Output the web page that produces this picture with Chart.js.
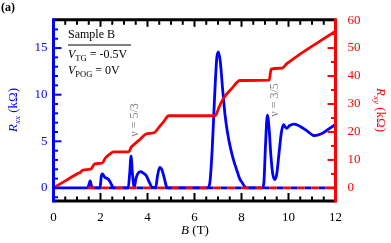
<!DOCTYPE html>
<html lang="en">
<head>
<meta charset="UTF-8">
<title>Sample B magnetotransport</title>
<script src="https://cdn.jsdelivr.net/npm/chart.js"></script>
<style>
  html, body { margin: 0; padding: 0; background: #fff; }
  #wrap { width: 391px; height: 243px; }
</style>
</head>
<body>
<div id="wrap"><canvas id="hall" width="391" height="243"></canvas></div>
<script>
// B (T) and Rxx (kOhm)
const rxxB = [0, 1.45, 1.5, 1.56, 1.62, 1.68, 1.98, 2.03, 2.08, 2.14, 2.2, 2.3, 2.4, 2.48, 2.55,
  3.18, 3.24, 3.3, 3.36, 3.44, 3.5, 3.58, 3.7, 3.82, 3.95, 4.08, 4.2, 4.35, 4.42, 4.52, 4.62, 4.72, 4.8, 4.88,
  6.55, 6.65, 6.75, 6.85, 6.95, 7.02, 7.1, 7.2, 7.3, 7.4, 7.52, 7.65, 7.8, 7.92, 8.02, 8.12, 8.22,
  8.88, 8.95, 9.02, 9.1, 9.17, 9.25, 9.33, 9.42, 9.5, 9.6, 9.7, 9.79, 9.87, 9.93, 10.05, 10.25, 10.5, 10.8, 11.1, 11.4, 11.7, 12];
const rxxVal = [0, 0, 0.3, 0.75, 0.2, 0, 0, 1.2, 1.5, 1.3, 1.1, 1.0, 0.7, 0.3, 0,
  0, 1.5, 3.4, 1.5, 0.05, 0.9, 1.5, 1.75, 1.6, 1.3, 0.6, 0.05, 0.05, 1.2, 2.2, 1.9, 1.0, 0.2, 0,
  0, 0.5, 4, 9.5, 14, 14.6, 13.5, 10.5, 7.8, 6, 4.4, 3.1, 1.9, 1.0, 0.6, 0.2, 0,
  0, 0.5, 4.5, 7.8, 6.5, 3.5, 1.5, 0.9, 1.5, 3.8, 6, 6.8, 6.5, 6.4, 6.7, 6.85, 6.6, 6.1, 5.6, 5.8, 6.3, 6.8];

// B (T) and Rxy (kOhm)
const rxyB = [0, 0.5, 1.0, 1.15, 1.25, 1.6, 1.75, 2.08, 2.2, 2.4, 2.55, 3.2, 3.3, 3.45, 3.7, 3.95, 4.3, 4.5, 4.7, 4.9,
  6.88, 7.05, 7.23, 7.59, 7.94, 9.18, 9.26, 9.72, 9.93, 12];
const rxyVal = [0, 2.5, 5.0, 5.6, 6.4, 6.8, 8.6, 8.9, 10.6, 12.1, 12.9, 12.9, 14.5, 15.7, 17.5, 19.3, 19.8, 21.8, 23.8, 25.8,
  25.8, 29, 32, 35.6, 38.4, 38.5, 42.5, 42.8, 44.4, 56];

// dashed zero line
const zeroB = [1.45, 12];
const zeroVal = [0, 0];

const bTicks = [0, 2, 4, 6, 8, 10, 12];
const rxxTicks = [0, 5, 10, 15];
const rxyTicks = [0, 10, 20, 30, 40, 50, 60];

const serif = '"Liberation Serif", "Times New Roman", serif';
const BLUE = '#0000ff', RED = '#ff0000';

function pts(xs, ys) { return xs.map((x, i) => ({ x: x, y: ys[i] })); }

// draws a run of text pieces with different fonts / baseline shifts
function richWidth(ctx, parts) {
  let w = 0;
  parts.forEach(p => { ctx.font = p.f; w += ctx.measureText(p.t).width; });
  return w;
}
function drawRich(ctx, parts, x, y, align) {
  let cx = x;
  if (align === 'center') cx -= richWidth(ctx, parts) / 2;
  parts.forEach(p => {
    ctx.font = p.f;
    ctx.fillText(p.t, cx, y + (p.dy || 0));
    cx += ctx.measureText(p.t).width;
  });
}

const framePlugin = {
  id: 'frame',
  afterDraw(chart) {
    const ctx = chart.ctx, a = chart.chartArea;
    const sx = chart.scales.x, sl = chart.scales.yL, sr = chart.scales.yR;
    const seg = (x1, y1, x2, y2) => { ctx.beginPath(); ctx.moveTo(x1, y1); ctx.lineTo(x2, y2); ctx.stroke(); };
    ctx.save();
    ctx.lineCap = 'butt';

    // inward ticks
    ctx.lineWidth = 2;
    ctx.strokeStyle = '#000';
    for (let i = 0; i <= 24; i++) {
      const v = i * 0.5, px = sx.getPixelForValue(v);
      const major = i % 4 === 0;
      seg(px, a.bottom, px, a.bottom - (major ? 8 : 4.5));
      seg(px, a.top, px, a.top + (major ? 7 : 5));
    }
    ctx.strokeStyle = BLUE;
    for (let v = -1; v <= 18; v++) {
      const py = sl.getPixelForValue(v);
      seg(a.left, py, a.left + (v % 5 === 0 ? 8 : 4.5), py);
    }
    ctx.strokeStyle = RED;
    for (let v = 0; v <= 60; v += 5) {
      const py = sr.getPixelForValue(v);
      seg(a.right, py, a.right - (v % 10 === 0 ? 8 : 4.5), py);
    }

    // spines
    ctx.lineWidth = 3;
    ctx.strokeStyle = '#000';
    seg(a.left, a.top, a.right, a.top);
    seg(a.left, a.bottom, a.right, a.bottom);
    ctx.strokeStyle = BLUE;
    seg(a.left, a.top - 1.5, a.left, a.bottom + 1.5);
    ctx.strokeStyle = RED;
    seg(a.right, a.top - 1.5, a.right, a.bottom + 1.5);

    // panel label
    ctx.fillStyle = '#000';
    ctx.textBaseline = 'alphabetic';
    ctx.font = 'bold 12px ' + serif;
    ctx.fillText('(a)', 1, 11);

    // sample box
    const it = 'italic 12px ' + serif, rg = '12px ' + serif, sb = '8.5px ' + serif;
    drawRich(ctx, [{ t: 'Sample B', f: rg }], 68, 38);
    ctx.lineWidth = 1;
    ctx.strokeStyle = '#000';
    seg(68, 45, 131, 45);
    drawRich(ctx, [{ t: 'V', f: it }, { t: 'TG', f: sb, dy: 3 }, { t: ' = -0.5V', f: rg }], 68, 58);
    drawRich(ctx, [{ t: 'V', f: it }, { t: 'POG', f: sb, dy: 3 }, { t: ' = 0V', f: rg }], 68, 74);

    // x title
    drawRich(ctx, [{ t: 'B', f: 'italic 13px ' + serif }, { t: ' (T)', f: '13px ' + serif }], 195, 234, 'center');

    // left title
    ctx.save();
    ctx.fillStyle = BLUE;
    ctx.translate(17, 110);
    ctx.rotate(-Math.PI / 2);
    drawRich(ctx, [{ t: 'R', f: 'italic 13px ' + serif }, { t: 'xx', f: 'italic 9px ' + serif, dy: 3 },
      { t: ' (k\u03A9)', f: '13px ' + serif }], 0, 0, 'center');
    ctx.restore();

    // right title
    ctx.save();
    ctx.fillStyle = RED;
    ctx.translate(377, 110);
    ctx.rotate(Math.PI / 2);
    drawRich(ctx, [{ t: 'R', f: 'italic 13px ' + serif }, { t: 'xy', f: 'italic 9px ' + serif, dy: 3 },
      { t: ' (k\u03A9)', f: '13px ' + serif }], 0, 0, 'center');
    ctx.restore();

    // filling factor notes
    ctx.fillStyle = '#7f7f7f';
    [['\u03BD = 5/3', 137.5, 120], ['\u03BD = 3/5', 277.5, 100]].forEach(n => {
      ctx.save();
      ctx.translate(n[1], n[2]);
      ctx.rotate(-Math.PI / 2);
      drawRich(ctx, [{ t: n[0], f: '12px ' + serif }], 0, 0, 'center');
      ctx.restore();
    });
    ctx.restore();
  }
};

const lineBase = { pointRadius: 0, borderWidth: 2.8, fill: false, cubicInterpolationMode: 'monotone' };

new Chart(document.getElementById('hall'), {
  type: 'line',
  data: {
    datasets: [
      Object.assign({}, lineBase, { data: pts(zeroB, zeroVal), yAxisID: 'yL', borderColor: RED, borderDash: [7, 7] }),
      Object.assign({}, lineBase, { data: pts(zeroB, zeroVal), yAxisID: 'yL', borderColor: BLUE, borderDash: [7, 7], borderDashOffset: 7 }),
      Object.assign({}, lineBase, { data: pts(rxyB, rxyVal), yAxisID: 'yR', borderColor: RED }),
      Object.assign({}, lineBase, { data: pts(rxxB, rxxVal), yAxisID: 'yL', borderColor: BLUE })
    ]
  },
  options: {
    responsive: false,
    animation: false,
    layout: { padding: { top: 17, left: 0, right: 0, bottom: 0 } },
    plugins: { legend: { display: false }, tooltip: { enabled: false } },
    scales: {
      x: {
        type: 'linear', position: 'bottom', min: 0, max: 12,
        grid: { display: false, drawTicks: false }, border: { display: false },
        ticks: { font: { family: serif, size: 13 }, color: '#000', padding: 9, maxRotation: 0 },
        afterBuildTicks: s => { s.ticks = bTicks.map(v => ({ value: v })); },
        afterFit: s => { s.height = 42; }
      },
      yL: {
        type: 'linear', position: 'left', min: -1.4, max: 18.03,
        grid: { display: false, drawTicks: false }, border: { display: false },
        ticks: { font: { family: serif, size: 13 }, color: BLUE, padding: 6 },
        afterBuildTicks: s => { s.ticks = rxxTicks.map(v => ({ value: v })); },
        afterFit: s => { s.width = 53.5; }
      },
      yR: {
        type: 'linear', position: 'right', min: -4.68, max: 60.1,
        grid: { display: false, drawTicks: false }, border: { display: false },
        ticks: { font: { family: serif, size: 13 }, color: RED, padding: 12 },
        afterBuildTicks: s => { s.ticks = rxyTicks.map(v => ({ value: v })); },
        afterFit: s => { s.width = 55.5; }
      }
    }
  },
  plugins: [framePlugin]
});
</script>
</body>
</html>
